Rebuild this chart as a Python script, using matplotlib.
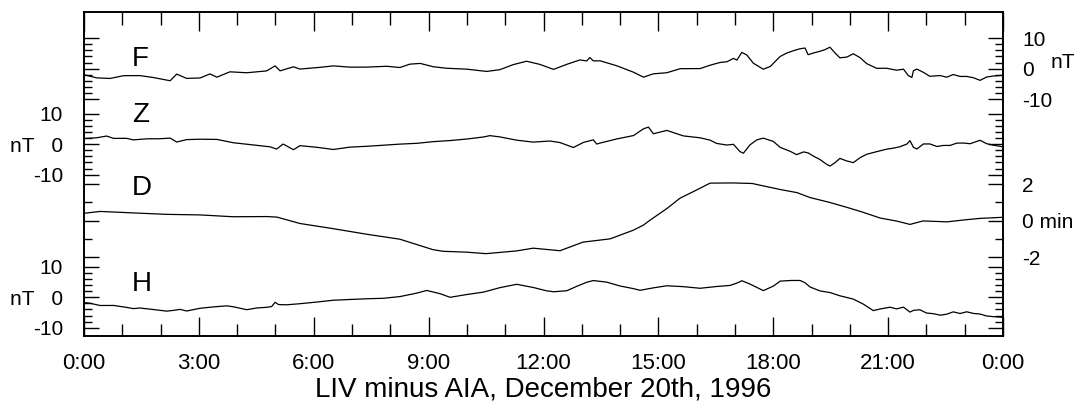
import matplotlib
matplotlib.use("Agg")
import matplotlib.pyplot as plt
from matplotlib.ticker import FixedLocator, FixedFormatter

plt.rcParams['font.family'] = ['Liberation Sans', 'DejaVu Sans']

# ---- data (hours, nT or minutes) ----
f_t = [0, .33, .68, 1.03, 1.46, 1.81, 2.25, 2.42, 2.68, 3.03, 3.29, 3.47, 3.81, 4.25, 4.77, 4.99,
       5.12, 5.47, 5.64, 6.16, 6.51, 6.95, 7.38, 7.9, 8.25, 8.51, 8.78, 9.12, 9.47, 9.99, 10.52,
       10.86, 11.21, 11.56, 11.91, 12.26, 12.61, 12.95, 13.13, 13.21, 13.3, 13.48, 13.91, 14.35,
       14.61, 14.87, 15.22, 15.57, 16.09, 16.35, 16.61, 16.79, 16.96, 17.05, 17.18, 17.31, 17.48,
       17.74, 17.92, 18.18, 18.35, 18.52, 18.7, 18.83, 18.91, 19.05, 19.22, 19.35, 19.48, 19.61,
       19.74, 19.92, 20.09, 20.27, 20.44, 20.7, 20.96, 21.22, 21.4, 21.53, 21.62, 21.66, 21.75,
       21.92, 22.09, 22.36, 22.53, 22.7, 22.88, 23.05, 23.23, 23.4, 23.57, 23.75, 24.0]
f_v = [-2.0, -3.03, -3.23, -2.32, -2.29, -2.92, -3.98, -1.8, -3.2, -3.07, -1.74, -2.81, -1.05,
       -1.35, -0.75, 0.9, -0.73, 0.6, -0.14, 0.42, 0.9, 0.48, 0.5, 0.77, 0.37, 1.47, 1.71, 0.62,
       0.12, -0.17, -0.92, -0.34, 1.32, 2.43, 1.37, -0.25, 1.42, 2.85, 2.54, 3.65, 2.55, 2.56,
       0.95, -1.18, -2.8, -1.7, -1.35, -0.02, 0.02, 1.12, 2.02, 2.26, 3.36, 2.8, 5.34, 4.46, 1.78,
       -0.2, 0.69, 4.0, 5.09, 5.86, 6.53, 6.76, 4.57, 5.14, 5.7, 6.24, 7.04, 5.18, 3.55, 3.79,
       4.88, 3.58, 1.63, 0.1, 0.12, -0.52, -0.18, -2.33, -2.88, -0.69, -0.15, -1.22, -2.52, -2.28,
       -2.82, -1.93, -2.57, -2.56, -3.0, -3.85, -2.76, -2.42, -2.16]

z_t = [0, .33, .59, .77, 1.11, 1.29, 1.64, 1.98, 2.25, 2.42, 2.68, 3.03, 3.47, 3.9, 4.42, 4.86,
       5.03, 5.2, 5.47, 5.64, 6.08, 6.51, 6.95, 7.38, 7.82, 8.25, 8.69, 9.12, 9.56, 9.99, 10.43,
       10.6, 10.86, 11.3, 11.73, 12.17, 12.43, 12.78, 13.04, 13.21, 13.3, 13.39, 13.48, 13.91,
       14.35, 14.61, 14.74, 14.87, 15.22, 15.65, 16.09, 16.35, 16.52, 16.79, 16.96, 17.13, 17.22,
       17.39, 17.57, 17.74, 18.0, 18.18, 18.44, 18.61, 18.79, 18.91, 19.05, 19.22, 19.4, 19.48,
       19.61, 19.74, 19.92, 20.09, 20.27, 20.44, 20.61, 20.79, 20.96, 21.14, 21.31, 21.49, 21.57,
       21.66, 21.75, 21.92, 22.09, 22.27, 22.44, 22.62, 22.79, 22.96, 23.14, 23.4, 23.57, 23.75, 24.0]
z_v = [1.84, 2.09, 2.66, 1.89, 1.91, 1.4, 1.75, 1.77, 1.99, 0.69, 1.49, 1.62, 1.55, 0.46, -0.26,
       -0.88, -1.62, 0.03, -1.82, -0.5, -1.03, -1.75, -0.97, -0.71, -0.35, 0.01, 0.27, 0.82, 1.18,
       1.67, 2.35, 2.79, 2.38, 1.3, 0.67, 1.03, 0.52, -1.1, 0.56, 1.1, 1.43, 0.03, 0.36, 1.7, 2.82,
       5.03, 5.6, 3.41, 4.51, 2.71, 2.08, 1.31, 0.24, -0.3, -0.06, -2.44, -2.98, -0.26, 1.4, 1.97,
       0.9, -1.05, -2.35, -3.45, -2.55, -2.87, -3.94, -5.05, -6.68, -7.2, -6.1, -4.68, -5.52,
       -6.07, -4.42, -3.33, -2.76, -2.19, -1.65, -1.31, -0.84, 0.03, 1.14, -1.05, -1.6, 0.06,
       0.07, -0.77, -0.43, -0.42, 0.34, 0.36, 0.14, 1.27, 0.17, -0.35, -0.89]

d_t = [0, 0.42, 1.28, 2.17, 3.03, 3.89, 4.78, 5.04, 5.64, 6.5, 7.39, 8.25, 9.11, 9.37, 10.0,
       10.5, 11.3, 11.73, 12.43, 13.03, 13.74, 14.34, 14.6, 14.78, 15.23, 15.56, 16.09, 16.35,
       16.95, 17.45, 18.18, 18.62, 18.96, 19.48, 19.93, 20.35, 20.79, 21.23, 21.57, 21.91,
       22.54, 22.96, 23.4, 24.0]
d_v = [0.40, 0.50, 0.42, 0.34, 0.31, 0.21, 0.22, 0.19, -0.16, -0.44, -0.75, -1.02, -1.59, -1.68,
       -1.73, -1.81, -1.66, -1.51, -1.65, -1.18, -1.0, -0.53, -0.26, 0.02, 0.67, 1.22, 1.77, 2.05,
       2.06, 2.03, 1.70, 1.53, 1.26, 0.99, 0.72, 0.45, 0.14, -0.03, -0.21, -0.02,
       -0.07, 0.03, 0.12, 0.18]

h_t = [0, .16, .42, .77, 1.11, 1.29, 1.46, 1.81, 2.16, 2.33, 2.51, 2.68, 3.03, 3.38, 3.73, 3.9,
       4.25, 4.51, 4.77, 4.9, 4.99, 5.08, 5.29, 5.64, 6.08, 6.51, 6.95, 7.38, 7.82, 8.25, 8.69,
       8.95, 9.3, 9.56, 9.99, 10.43, 10.86, 11.3, 11.73, 12.08, 12.26, 12.61, 12.87, 13.13, 13.3,
       13.65, 14.0, 14.35, 14.52, 14.87, 15.22, 15.65, 16.09, 16.52, 16.87, 17.05, 17.18, 17.39,
       17.74, 18.0, 18.18, 18.44, 18.7, 18.83, 18.96, 19.22, 19.48, 19.74, 19.92, 20.09, 20.35,
       20.61, 20.79, 21.05, 21.22, 21.4, 21.57, 21.66, 21.83, 22.0, 22.18, 22.36, 22.53, 22.7,
       22.88, 23.05, 23.23, 23.4, 23.57, 23.75, 24.0]
h_v = [-1.74, -1.96, -2.69, -2.67, -3.3, -3.71, -3.51, -4.01, -4.54, -4.3, -3.96, -4.5, -3.6,
       -3.15, -2.8, -3.11, -4.07, -3.5, -3.28, -3.04, -1.63, -2.38, -2.46, -2.1, -1.55, -0.96,
       -0.71, -0.48, -0.32, 0.24, 1.38, 2.25, 1.19, 0.0, 0.91, 1.7, 3.17, 4.28, 3.23, 2.14, 1.82,
       2.17, 3.63, 4.96, 5.5, 4.99, 3.71, 2.85, 2.3, 3.11, 3.79, 3.5, 2.97, 3.55, 3.9, 4.67, 5.44,
       4.37, 2.2, 3.66, 5.31, 5.52, 5.54, 4.79, 3.39, 2.1, 1.56, 0.5, -0.05, -0.59, -2.22, -4.36,
       -3.83, -3.25, -3.8, -3.23, -4.86, -4.29, -4.08, -5.15, -5.37, -5.88, -5.54, -4.78, -5.32,
       -4.75, -5.3, -5.49, -6.13, -6.35, -6.56]

band_names = ['F', 'Z', 'D', 'H']
band_zero = [87.8, 63.0, 37.9, 12.7]      # baseline of each trace on the shared axis
band_scale = [1.0, 1.0, 6.0, 1.0]          # axis units per nT (per minute for D)

x_ticks = [0, 3, 6, 9, 12, 15, 18, 21, 24]
x_labels = ['0:00', '3:00', '6:00', '9:00', '12:00', '15:00', '18:00', '21:00', '0:00']
xlabel = 'LIV minus AIA, December 20th, 1996'

fig = plt.figure(figsize=(10.84, 4.12), dpi=100)
ax = fig.add_axes([0.0775, 0.1845, 0.8478, 0.7864])
ax.set_xlim(0, 24)
ax.set_ylim(0, 106.4)

series = [(f_t, f_v), (z_t, z_v), (d_t, d_v), (h_t, h_v)]
for (t, v), z0, sc in zip(series, band_zero, band_scale):
    ax.plot(t, [z0 + sc * val for val in v], color='black', lw=0.9)

# band letters
letter_y = [87.8, 69.2, 45.2, 13.9]
for name, yy in zip(band_names, letter_y):
    ax.text(1.25, yy + 1.0, name, fontsize=20, ha='left', va='baseline')

for s in ax.spines.values():
    s.set_linewidth(1.2)

# x axis
ax.xaxis.set_major_locator(FixedLocator(x_ticks))
ax.xaxis.set_major_formatter(FixedFormatter(x_labels))
ax.xaxis.set_minor_locator(FixedLocator(list(range(0, 25))))
ax.tick_params(axis='x', which='major', direction='in', length=14, width=1,
               top=True, bottom=True, labelsize=16, pad=12)
ax.tick_params(axis='x', which='minor', direction='in', length=9, width=1,
               top=True, bottom=True)
ax.set_xlabel(xlabel, fontsize=20, labelpad=2)

# y ticks (same structure on both sides)
major_pos, minor_pos = [], []
for z0, sc, name in zip(band_zero, band_scale, band_names):
    if name == 'D':
        major_pos += [z0 - 2 * sc, z0, z0 + 2 * sc]
        minor_pos += [z0 - sc, z0 + sc]
    else:
        major_pos += [z0 - 10, z0, z0 + 10]
        minor_pos += [z0 + k for k in (-8, -6, -4, -2, 2, 4, 6, 8)]

left_labels = {'F': ['', '', ''], 'Z': ['-10', 'nT   0', '10'], 'D': ['', '', ''], 'H': ['-10', 'nT   0', '10']}
right_labels = {'F': ['-10', '0', '10'], 'Z': ['', '', ''], 'D': ['-2', '0 min', '2'], 'H': ['', '', '']}
ll, rl = [], []
for name in band_names:
    ll += left_labels[name]
    rl += right_labels[name]

ax.yaxis.set_major_locator(FixedLocator(major_pos))
ax.yaxis.set_major_formatter(FixedFormatter(ll))
ax.yaxis.set_minor_locator(FixedLocator(minor_pos))
ax.tick_params(axis='y', which='major', direction='in', length=11, width=1,
               left=True, right=False, labelsize=15, pad=15)
ax.tick_params(axis='y', which='minor', direction='in', length=6, width=1,
               left=True, right=False)

ax2 = ax.twinx()
ax2.set_ylim(ax.get_ylim())
ax2.yaxis.set_major_locator(FixedLocator(major_pos))
ax2.yaxis.set_major_formatter(FixedFormatter(rl))
ax2.yaxis.set_minor_locator(FixedLocator(minor_pos))
ax2.tick_params(axis='y', which='major', direction='in', length=11, width=1,
                left=False, right=True, labelsize=15, pad=14)
ax2.tick_params(axis='y', which='minor', direction='in', length=6, width=1,
                left=False, right=True)
for s in ax2.spines.values():
    s.set_linewidth(1.2)

ax2.annotate('nT', xy=(1.0, band_zero[0] + 2.0), xycoords=('axes fraction', 'data'),
             xytext=(34, 0), textcoords='offset points', fontsize=15, ha='left', va='center')

fig.savefig('out.png', dpi=100)
